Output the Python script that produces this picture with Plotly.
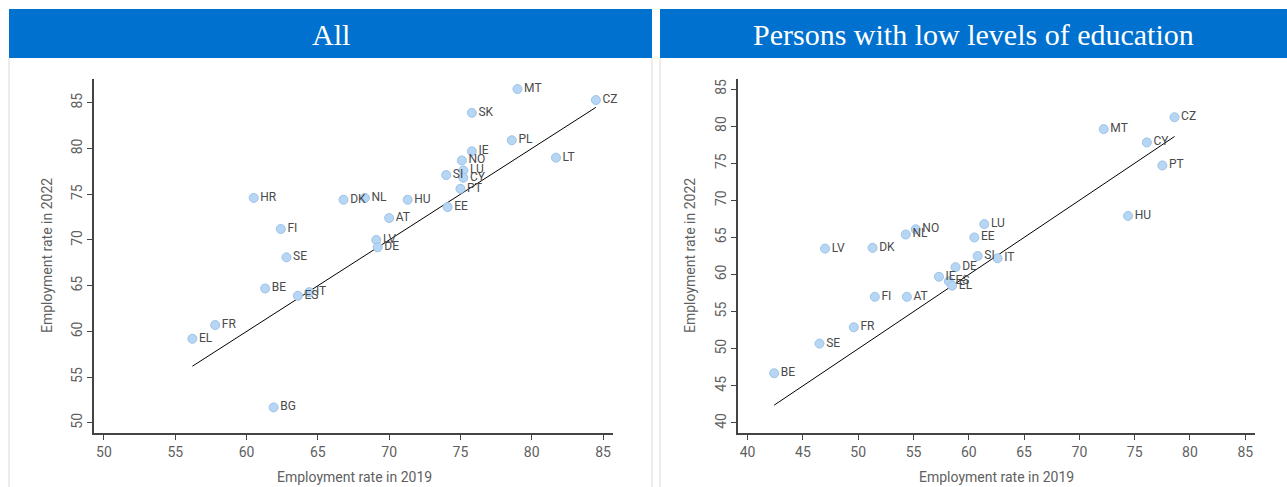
import plotly.graph_objects as go

# ---- Data: "All" panel ----
all_countries = ["MT", "CZ", "SK", "PL", "IE", "LT", "NO", "LU", "SI", "CY", "PT",
                 "DK", "NL", "HU", "EE", "AT", "LV", "DE", "HR", "FI", "SE", "BE",
                 "ES", "IT", "FR", "EL", "BG"]
all_2019 = [79.0, 84.5, 75.8, 78.6, 75.8, 81.7, 75.1, 75.2, 74.0, 75.2, 75.0,
            66.8, 68.3, 71.3, 74.1, 70.0, 69.1, 69.2, 60.5, 62.4, 62.8, 61.3,
            63.6, 64.4, 57.8, 56.2, 61.9]
all_2022 = [86.5, 85.3, 83.9, 80.9, 79.7, 79.0, 78.7, 77.6, 77.1, 76.8, 75.6,
            74.4, 74.6, 74.4, 73.6, 72.4, 70.0, 69.2, 74.6, 71.2, 68.1, 64.7,
            63.9, 64.3, 60.7, 59.2, 51.7]

# ---- Data: "Persons with low levels of education" panel ----
low_countries = ["MT", "CZ", "CY", "PT", "HU", "LV", "DK", "NL", "NO", "LU", "EE",
                 "SI", "IT", "DE", "IE", "ES", "EL", "FI", "AT", "FR", "SE", "BE"]
low_2019 = [72.2, 78.6, 76.1, 77.5, 74.4, 47.0, 51.3, 54.3, 55.2, 61.4, 60.5,
            60.8, 62.6, 58.8, 57.3, 58.2, 58.5, 51.5, 54.4, 49.6, 46.5, 42.4]
low_2022 = [79.6, 81.2, 77.8, 74.7, 67.9, 63.5, 63.6, 65.4, 66.1, 66.8, 65.0,
            62.5, 62.2, 61.0, 59.7, 59.1, 58.5, 57.0, 57.0, 52.9, 50.7, 46.7]

titles = ["All", "Persons with low levels of education"]
x_title = "Employment rate in 2019"
y_title = "Employment rate in 2022"
ticks_all = [50, 55, 60, 65, 70, 75, 80, 85]
ticks_low_x = [40, 45, 50, 55, 60, 65, 70, 75, 80, 85]
ticks_low_y = [40, 45, 50, 55, 60, 65, 70, 75, 80, 85]

W, H = 1287, 487
AX = "#444444"
TXT = "#5f5f5f"
LBL = "#4a4a4a"
BLUE = "#0071CE"

fig = go.Figure()

def add_panel(xs, ys, names, xa, ya):
    lo, hi = min(xs), max(xs)
    fig.add_trace(go.Scatter(x=[lo, hi], y=[lo, hi], mode="lines",
                             line=dict(color="black", width=1),
                             xaxis=xa, yaxis=ya, showlegend=False, hoverinfo="skip"))
    fig.add_trace(go.Scatter(x=xs, y=ys, text=names, mode="markers+text",
                             textposition="middle right", cliponaxis=False,
                             textfont=dict(family="Roboto", size=12, color=LBL),
                             marker=dict(size=9, color="#B7D6F3",
                                         line=dict(color="#9CC4EA", width=1)),
                             xaxis=xa, yaxis=ya, showlegend=False))

add_panel(all_2019, all_2022, all_countries, "x", "y")
add_panel(low_2019, low_2022, low_countries, "x2", "y2")

def px(x):
    return x / W

def py(y):
    return (H - y) / H

axis_common = dict(showgrid=False, zeroline=False, showline=True, linecolor=AX,
                   linewidth=1.5, ticks="outside", ticklen=5, tickcolor=AX,
                   tickwidth=1.2, tickfont=dict(family="Roboto", size=14, color=TXT))

fig.update_layout(
    width=W, height=H, margin=dict(l=0, r=0, t=0, b=0),
    paper_bgcolor="white", plot_bgcolor="white",
    xaxis=dict(domain=[px(94), px(613)], range=[49.3, 85.7], tickvals=ticks_all,
               anchor="y", **axis_common),
    yaxis=dict(domain=[py(433), py(79)], range=[48.9, 87.6], tickvals=ticks_all,
               tickangle=-90, anchor="x", **axis_common),
    xaxis2=dict(domain=[px(738), px(1255)], range=[39.13, 85.88], tickvals=ticks_low_x,
                anchor="y2", **axis_common),
    yaxis2=dict(domain=[py(433), py(79)], range=[38.65, 86.35], tickvals=ticks_low_y,
                tickangle=-90, anchor="x2", **axis_common),
)

shapes = []
annotations = []
banners = [(9, 652), (660, 1287)]
for (x0, x1), t in zip(banners, titles):
    shapes.append(dict(type="rect", xref="paper", yref="paper",
                       x0=px(x0), x1=px(x1), y0=py(58), y1=py(9),
                       fillcolor=BLUE, line=dict(width=0), layer="below"))
    annotations.append(dict(text=t, xref="paper", yref="paper",
                            x=px((x0 + x1) / 2), y=py(34), showarrow=False,
                            xanchor="center", yanchor="middle",
                            font=dict(family="Liberation Serif", size=30, color="white")))
    for xl in (x0, x1):
        if xl < W:
            shapes.append(dict(type="line", xref="paper", yref="paper",
                               x0=px(xl), x1=px(xl), y0=0, y1=py(58),
                               line=dict(color="#d9d9d9", width=1)))

for xc, yc in [(354, 477), (996, 477)]:
    annotations.append(dict(text=x_title, xref="paper", yref="paper",
                            x=px(xc), y=py(yc), showarrow=False,
                            xanchor="center", yanchor="middle",
                            font=dict(family="Roboto", size=14, color=TXT)))
for xc, yc in [(47, 256), (690, 256)]:
    annotations.append(dict(text=y_title, xref="paper", yref="paper",
                            x=px(xc), y=py(yc), showarrow=False, textangle=-90,
                            xanchor="center", yanchor="middle",
                            font=dict(family="Roboto", size=14, color=TXT)))

fig.update_layout(shapes=shapes, annotations=annotations)

fig.write_html("out.html", config={"displayModeBar": False},
               post_script="document.body.style.margin='0';document.body.style.overflow='hidden';")
